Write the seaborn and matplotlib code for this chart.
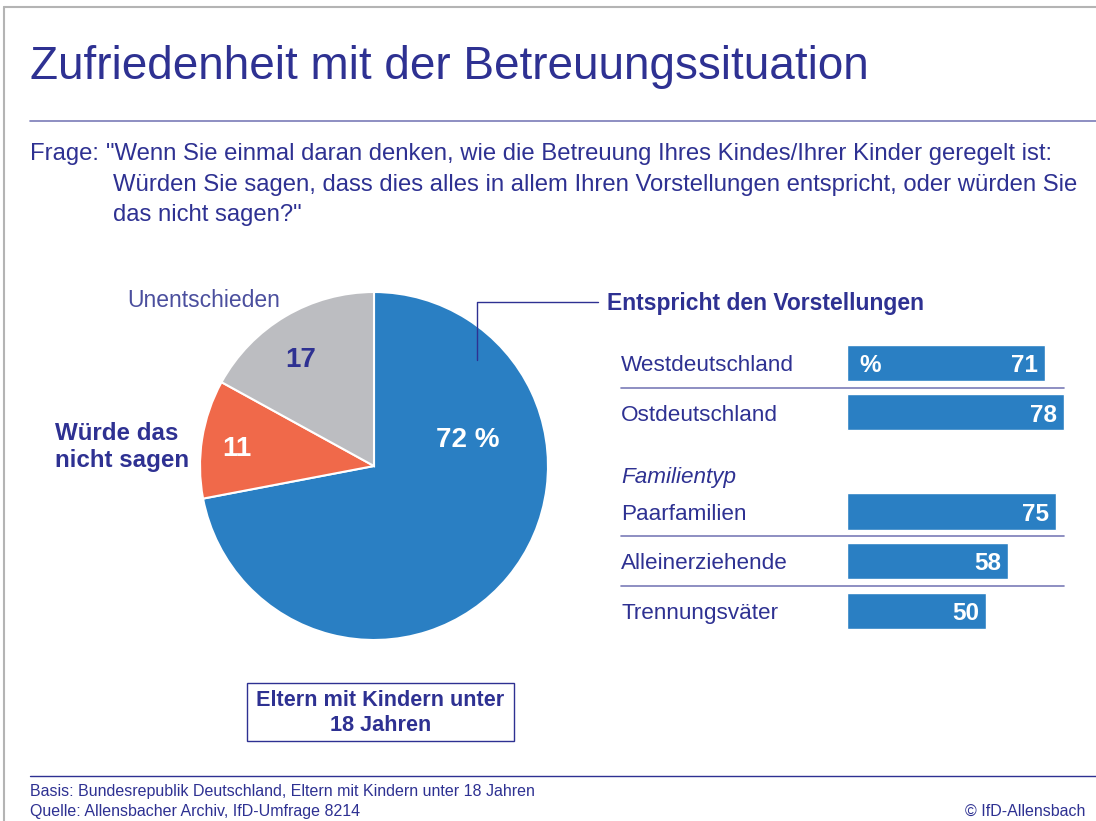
import numpy as np
import pandas as pd
import matplotlib.pyplot as plt
import seaborn as sns
from matplotlib.lines import Line2D
from matplotlib.patches import Rectangle
from matplotlib.transforms import blended_transform_factory

# pie: Eltern mit Kindern unter 18 Jahren
pie_labels = ['Entspricht den Vorstellungen', 'Würde das nicht sagen', 'Unentschieden']
pie_values = [72, 11, 17]
pie_colors = ['#2a7fc3', '#f0694a', '#bcbdc1']

# bars: Entspricht den Vorstellungen
bar_labels = ['Westdeutschland', 'Ostdeutschland', 'Paarfamilien', 'Alleinerziehende', 'Trennungsväter']
bar_values = [71, 78, 75, 58, 50]
bar_order = ['Westdeutschland', 'Ostdeutschland', 'Familientyp',
             'Paarfamilien', 'Alleinerziehende', 'Trennungsväter']

W, H = 1096, 821
navy = '#2e3192'
soft = '#4b4f9e'
rule = '#7a7cb8'
blue = pie_colors[0]

sns.set_theme(style='white')
plt.rcParams['font.family'] = ['Liberation Sans', 'DejaVu Sans']

fig = plt.figure(figsize=(W / 100, H / 100), dpi=100)


def fx(x):
    return x / W


def fy(y):
    return 1 - y / H


def hline(x0, x1, y, color, lw=1.0):
    fig.add_artist(Line2D([fx(x0), fx(x1)], [fy(y), fy(y)], color=color, lw=lw,
                          transform=fig.transFigure))


###########################
### FRAME + HEADER
###########################
fig.add_artist(Line2D([fx(4), fx(4)], [fy(7), fy(821)], color='#b4b4b4', lw=1.5, transform=fig.transFigure))
hline(4, 1096, 7, '#b4b4b4', 1.5)

fig.text(fx(30), fy(79), 'Zufriedenheit mit der Betreuungssituation', fontsize=33,
         color=navy, va='baseline', ha='left')
hline(30, 1096, 121, rule, 1.2)

q_fs = 17.2
fig.text(fx(30), fy(160), 'Frage:', fontsize=q_fs, color=navy, va='baseline')
fig.text(fx(106), fy(160), '"Wenn Sie einmal daran denken, wie die Betreuung Ihres Kindes/Ihrer Kinder geregelt ist:',
         fontsize=q_fs, color=navy, va='baseline')
fig.text(fx(113), fy(191), 'Würden Sie sagen, dass dies alles in allem Ihren Vorstellungen entspricht, oder würden Sie',
         fontsize=q_fs, color=navy, va='baseline')
fig.text(fx(113), fy(221), 'das nicht sagen?"', fontsize=q_fs, color=navy, va='baseline')

###########################
### PIE
###########################
cx, cy, r = 374, 466, 174
ax_pie = fig.add_axes([fx(cx - r), fy(cy + r), 2 * r / W, 2 * r / H])
ax_pie.pie(pie_values, colors=pie_colors, startangle=90, counterclock=False,
           wedgeprops=dict(edgecolor='white', linewidth=1.5))
ax_pie.set_xlim(-1, 1)
ax_pie.set_ylim(-1, 1)
ax_pie.text(0.54, 0.167, f'{pie_values[0]} %', color='white', fontsize=20, fontweight='bold',
            ha='center', va='center_baseline')
ax_pie.text(-0.787, 0.115, f'{pie_values[1]}', color='white', fontsize=20, fontweight='bold',
            ha='center', va='center_baseline')
ax_pie.text(-0.42, 0.626, f'{pie_values[2]}', color=navy, fontsize=20, fontweight='bold',
            ha='center', va='center_baseline')

fig.text(fx(127), fy(307), pie_labels[2], fontsize=16.5, color=soft, va='baseline')
fig.text(fx(55), fy(440), 'Würde das', fontsize=17.4, color=navy, fontweight='bold', va='baseline')
fig.text(fx(55), fy(467), 'nicht sagen', fontsize=17.4, color=navy, fontweight='bold', va='baseline')

# leader line to the bar block heading
fig.add_artist(Line2D([fx(477), fx(477), fx(598)], [fy(360), fy(302), fy(302)], color=navy, lw=1,
                      transform=fig.transFigure))
fig.text(fx(607), fy(310), pie_labels[0], fontsize=16.5, color=navy, fontweight='bold', va='baseline')

# base box
fig.add_artist(Rectangle((fx(247), fy(741)), fx(514) - fx(247), fy(683) - fy(741),
                         transform=fig.transFigure, fill=False, edgecolor=navy, lw=1))
fig.text(fx(380.5), fy(713), 'Eltern mit Kindern unter\n18 Jahren', fontsize=15.6, color=navy,
         fontweight='bold', ha='center', va='center', linespacing=1.2)

###########################
### BARS
###########################
px_per_unit = 2.782
ax = fig.add_axes([fx(847), fy(635.25), 228 / W, 297 / H])
df = pd.DataFrame({'label': bar_labels, 'value': bar_values})
sns.barplot(data=df, x='value', y='label', order=bar_order, color=blue, saturation=1,
            width=36 / 49.5, orient='h', ax=ax)
ax.set_xlim(0, 228 / px_per_unit)
ax.set_ylim(5.5, -0.5)
ax.axis('off')

trans = blended_transform_factory(fig.transFigure, ax.transData)
for lab, val in zip(bar_labels, bar_values):
    i = bar_order.index(lab)
    ax.text(fx(621), i, lab, transform=trans, fontsize=16.2, color=navy, ha='left', va='center_baseline')
    ax.text(val - 7 / px_per_unit, i, str(val), fontsize=17.5, color='white', fontweight='bold',
            ha='right', va='center_baseline')
ax.text(4.5, 0, '%', fontsize=17.5, color='white', fontweight='bold', ha='left', va='center_baseline')
ax.text(fx(621), 2.26, 'Familientyp', transform=trans, fontsize=16.2, color=navy, style='italic',
        ha='left', va='center_baseline')
for yy in [0.5, 3.5, 4.5]:
    ax.plot([fx(621), fx(1064)], [yy, yy], transform=trans, color=rule, lw=1.2, clip_on=False)

###########################
### FOOTER
###########################
hline(30, 1096, 776, navy, 1.0)
fig.text(fx(30), fy(796), 'Basis: Bundesrepublik Deutschland, Eltern mit Kindern unter 18 Jahren',
         fontsize=11.5, color=navy, va='baseline')
fig.text(fx(30), fy(816), 'Quelle: Allensbacher Archiv, IfD-Umfrage 8214', fontsize=11.5, color=navy,
         va='baseline')
fig.text(fx(1085), fy(816), '© IfD-Allensbach', fontsize=11.5, color=navy, va='baseline', ha='right')

plt.savefig('out.png', dpi=100)
plt.close()
